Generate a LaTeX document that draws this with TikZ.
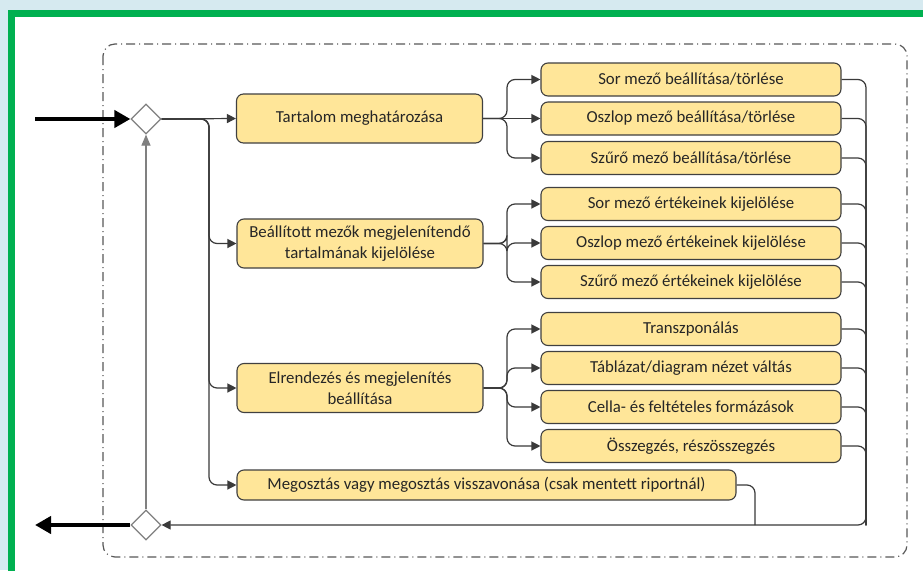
\documentclass[tikz,border=0pt]{standalone}
\usepackage{fontspec}
\setmainfont{Carlito}
\usetikzlibrary{arrows.meta,shapes.geometric}
\definecolor{bgblue}{HTML}{D6EAF0}
\definecolor{framegreen}{HTML}{00B050}
\definecolor{boxfill}{HTML}{FFE699}
\definecolor{boxline}{HTML}{404040}
\definecolor{conncol}{HTML}{3A3A3A}
\definecolor{txtcol}{HTML}{262626}
\tikzset{
  stepbox/.style={draw=boxline, fill=boxfill, rounded corners=7pt, line width=1.1pt,
    inner sep=0pt, align=center, text=txtcol,
    font=\fontsize{16.8}{20.5}\selectfont},
  mainbox/.style={stepbox, minimum width=246pt, minimum height=49pt},
  subbox/.style={stepbox, minimum width=300pt, minimum height=33pt},
  gate/.style={diamond, draw=gray, fill=white, line width=1.2pt, minimum width=30pt, minimum height=30pt, inner sep=0pt},
  conn/.style={draw=conncol, line width=1.2pt, rounded corners=8pt},
  arr/.style={conn, -{Triangle[length=9pt,width=9pt]}},
  bigarr/.style={draw=black, line width=4pt, -{Triangle[length=16pt,width=17pt]}},
  frame/.style={draw=gray!70!black, line width=1.2pt, rounded corners=12pt, dash pattern=on 9pt off 4pt on 1pt off 4pt},
}
\begin{document}
\begin{tikzpicture}[x=1pt,y=-1pt]
\useasboundingbox (0,0) rectangle (923,570);
\fill[bgblue] (0,0) rectangle (923,570);
\draw[framegreen, line width=7pt, fill=white] (11.5,13.5) rectangle (935,575);
\draw[frame] (103,44) rectangle (907,557);

% gates
\node[gate] (d1) at (146,119) {};
\node[gate] (d2) at (146,525) {};

% main boxes
\node[mainbox] (t1) at (359.5,118.5) {Tartalom meghatározása};
\node[mainbox] (t2) at (360,243.5) {Beállított mezők megjelenítendő\\tartalmának kijelölése};
\node[mainbox] (t3) at (360,388) {Elrendezés és megjelenítés\\beállítása};
\node[stepbox, minimum width=499pt, minimum height=30pt] (t4) at (486.5,485) {Megosztás vagy megosztás visszavonása (csak mentett riportnál)};

% sub boxes
\node[subbox] (s11) at (691,79.5) {Sor mező beállítása/törlése};
\node[subbox] (s12) at (691,118.5) {Oszlop mező beállítása/törlése};
\node[subbox] (s13) at (691,158) {Szűrő mező beállítása/törlése};
\node[subbox] (s21) at (691,204) {Sor mező értékeinek kijelölése};
\node[subbox] (s22) at (691,243) {Oszlop mező értékeinek kijelölése};
\node[subbox] (s23) at (691,282) {Szűrő mező értékeinek kijelölése};
\node[subbox] (s31) at (691,329) {Transzponálás};
\node[subbox] (s32) at (691,368) {Táblázat/diagram nézet váltás};
\node[subbox] (s33) at (691,407) {Cella- és feltételes formázások};
\node[subbox] (s34) at (691,446) {Összegzés, részösszegzés};

% coordinates
\coordinate (in) at (35,119);
\coordinate (out) at (35,525);
\coordinate (br) at (209,119);
\coordinate (f1) at (507,118.5);
\coordinate (f2) at (507,243.5);
\coordinate (f3) at (507,388);
\coordinate (col) at (866,525);
\coordinate (mg) at (755,525);

% main flow
\draw[bigarr] (in) -- (d1.west);
\draw[bigarr] (d2.west) -- (out);
\draw[draw=gray, line width=1.2pt, -{Triangle[length=11pt,width=9pt]}] (d2.north) -- (d1.south);

\draw[arr] (d1.east) -- (t1.west);
\draw[arr] (d1.east) -- (br) |- (t2.west);
\draw[arr] (d1.east) -- (br) |- (t3.west);
\draw[arr] (d1.east) -- (br) |- (t4.west);

% forks
\draw[arr] (t1.east) -- (f1) |- (s11.west);
\draw[arr] (t1.east) -- (s12.west);
\draw[arr] (t1.east) -- (f1) |- (s13.west);
\draw[arr] (t2.east) -- (f2) |- (s21.west);
\draw[arr] (t2.east) -- (f2) |- (s22.west);
\draw[arr] (t2.east) -- (f2) |- (s23.west);
\draw[arr] (t3.east) -- (f3) |- (s31.west);
\draw[arr] (t3.east) -- (f3) |- (s32.west);
\draw[arr] (t3.east) -- (f3) |- (s33.west);
\draw[arr] (t3.east) -- (f3) |- (s34.west);

% collectors
\foreach \s in {s12,s13,s21,s22,s23,s31,s32,s33,s34}{
  \draw[conn] (\s.east) -| (col);
}
\draw[conn] (t4.east) -| (mg);
\draw[arr] (s11.east) -| (col) -- (d2.east);
\end{tikzpicture}
\end{document}
